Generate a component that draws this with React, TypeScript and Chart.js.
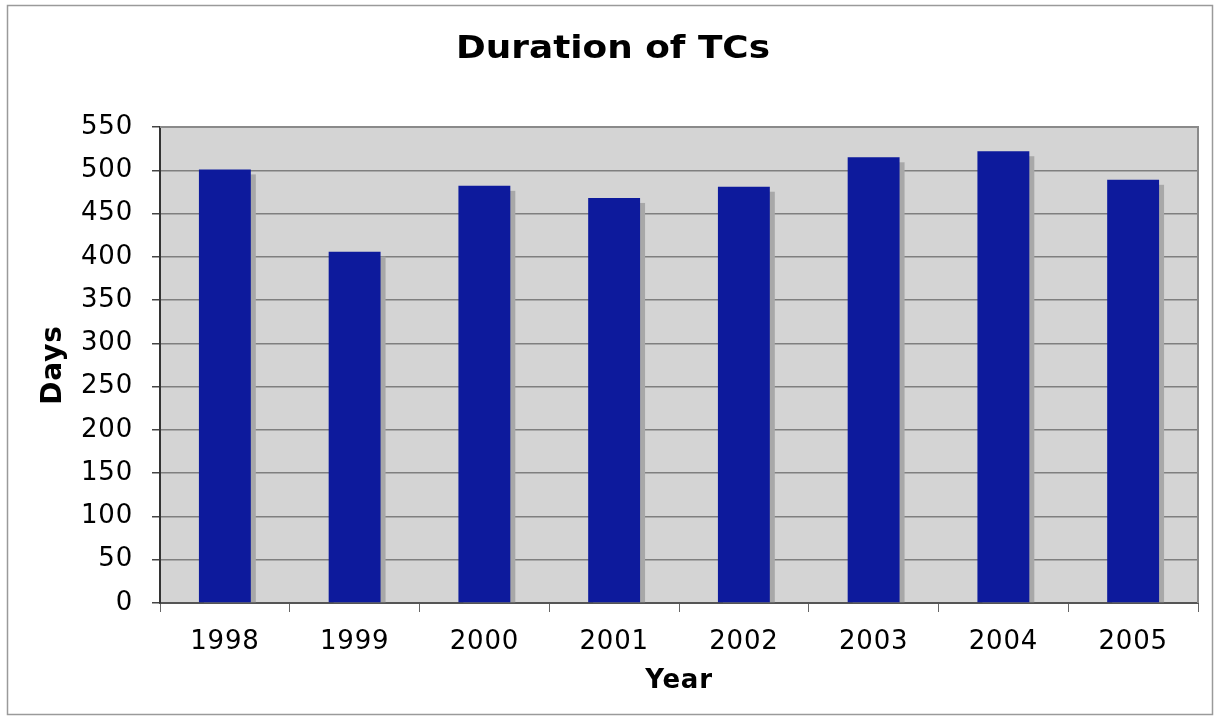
import React, { useEffect, useRef } from "react";
import { Chart, registerables } from "chart.js";

Chart.register(...registerables);

const years: string[] = ["1998", "1999", "2000", "2001", "2002", "2003", "2004", "2005"];
const days: number[] = [501, 406, 482, 468, 481, 515, 522, 489];
const yMin = 0;
const yMax = 550;
const yStep = 50;
const TITLE = "Duration of TCs";
const X_TITLE = "Year";
const Y_TITLE = "Days";

const FONT = "'DejaVu Sans', Verdana, sans-serif";

const decor = {
  id: "decor",
  beforeDraw(chart: any) {
    const { ctx, chartArea: a, width, height } = chart;
    ctx.save();
    ctx.fillStyle = "#ffffff";
    ctx.fillRect(0, 0, width, height);
    ctx.strokeStyle = "#9a9a9a";
    ctx.lineWidth = 1.5;
    ctx.strokeRect(7.5, 5.5, 1205, 709);
    ctx.fillStyle = "#d4d4d4";
    ctx.fillRect(a.left, a.top, a.right - a.left, a.bottom - a.top);
    ctx.fillStyle = "#000000";
    ctx.font = `bold 32px ${FONT}`;
    ctx.textAlign = "center";
    ctx.textBaseline = "alphabetic";
    ctx.translate(613, 58);
    ctx.scale(1.12, 1);
    ctx.fillText(TITLE, 0, 0);
    ctx.restore();
    (ctx as any).letterSpacing = "0.8px";
  },
  beforeDatasetsDraw(chart: any) {
    const { ctx } = chart;
    const meta = chart.getDatasetMeta(0);
    ctx.save();
    ctx.fillStyle = "#a8a8a8";
    meta.data.forEach((bar: any) => {
      const { x, y, base, width } = bar.getProps(["x", "y", "base", "width"], true);
      ctx.fillRect(x - width / 2 + 5, y + 5, width, base - y - 5);
    });
    ctx.restore();
  },
  afterDatasetsDraw(chart: any) {
    const { ctx, chartArea: a } = chart;
    ctx.save();
    ctx.strokeStyle = "#8a8a8a";
    ctx.lineWidth = 2;
    ctx.beginPath();
    ctx.moveTo(a.left, a.top);
    ctx.lineTo(a.right, a.top);
    ctx.lineTo(a.right, a.bottom);
    ctx.stroke();
    ctx.restore();
  },
};

export default function App() {
  const ref = useRef<HTMLCanvasElement | null>(null);

  useEffect(() => {
    if (!ref.current) return;
    const chart = new Chart(ref.current, {
      type: "bar",
      data: {
        labels: years,
        datasets: [
          {
            data: days,
            backgroundColor: "#0d1a9c",
            borderWidth: 0,
            categoryPercentage: 1,
            barPercentage: 0.4,
          },
        ],
      },
      options: {
        animation: false,
        responsive: false,
        layout: { padding: { top: 127, right: 19, left: 0, bottom: 0 } },
        plugins: {
          legend: { display: false },
          tooltip: { enabled: false },
          title: { display: false },
        },
        scales: {
          x: {
            grid: {
              display: true,
              drawOnChartArea: false,
              drawTicks: true,
              tickLength: 9,
              tickColor: "#666666",
              offset: true,
            },
            border: { display: true, color: "#555555", width: 2 },
            ticks: {
              font: { family: FONT, size: 26 },
              color: "#000000",
              padding: 15,
            },
            title: {
              display: true,
              text: X_TITLE,
              color: "#000000",
              font: { family: FONT, size: 26, weight: "bold" },
              padding: { top: 0, bottom: 19 },
            },
            afterFit: (s: any) => {
              s.height = 113;
            },
          },
          y: {
            min: yMin,
            max: yMax,
            ticks: {
              stepSize: yStep,
              font: { family: FONT, size: 26 },
              color: "#000000",
              padding: 19,
            },
            grid: {
              color: "#7f7f7f",
              lineWidth: 1.5,
              tickLength: 8,
              tickColor: "#444444",
            },
            border: { display: true, color: "#333333", width: 2 },
            title: {
              display: true,
              text: Y_TITLE,
              color: "#000000",
              font: { family: FONT, size: 28, weight: "bold" },
              padding: { top: 37, bottom: 0 },
            },
            afterFit: (s: any) => {
              s.width = 160;
            },
          },
        },
      },
      plugins: [decor],
    });
    return () => chart.destroy();
  }, []);

  return (
    <div style={{ position: "absolute", left: 0, top: 0, width: 1217, height: 716 }}>
      <canvas ref={ref} width={1217} height={716} />
    </div>
  );
}
